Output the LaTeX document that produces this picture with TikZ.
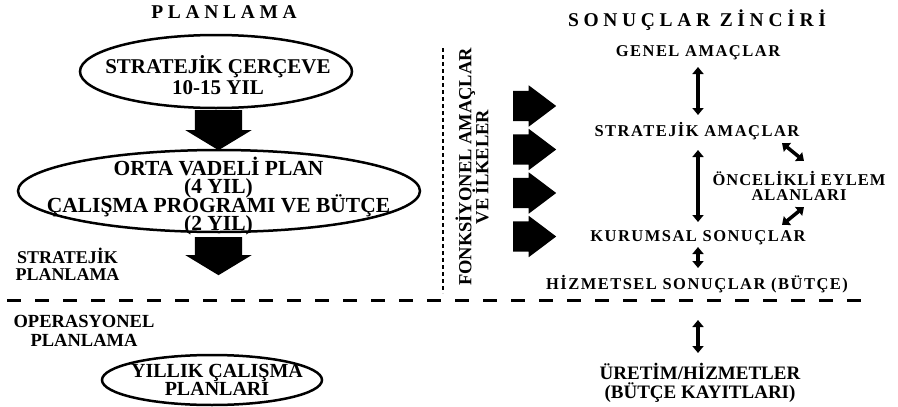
\documentclass[tikz,border=0pt]{standalone}
\usepackage{fontspec}
\setmainfont{Liberation Serif}
\usetikzlibrary{shapes.geometric,shapes.arrows,arrows.meta}
\begin{document}
\lineskiplimit=-100pt
\begin{tikzpicture}[x=1pt,y=-1pt,
  ell/.style={draw, ellipse, line width=2.5pt, inner sep=0pt},
  etext/.style={font=\bfseries\fontsize{21}{21.7}\selectfont, align=center, inner sep=0pt},
  side/.style={font=\bfseries\fontsize{18}{17}\selectfont, align=center, inner sep=0pt},
  title/.style={font=\bfseries\fontsize{19.5}{20}\selectfont\addfontfeatures{LetterSpace=24}, inner sep=0pt, anchor=base},
  chain/.style={font=\bfseries\fontsize{16.5}{15}\selectfont\addfontfeatures{LetterSpace=9}, inner sep=0pt, align=center},
  dbl/.style={{Triangle[width=11pt,length=7pt]}-{Triangle[width=11pt,length=7pt]}, line width=3.5pt},
  blockdown/.style={single arrow, fill=black, draw=none, rotate=-90, inner xsep=0pt, inner ysep=23.5pt,
    single arrow head extend=9.5pt, single arrow tip angle=117.6, minimum height=40pt, anchor=tail},
  blockright/.style={single arrow, fill=black, draw=none, inner xsep=0pt, inner ysep=15pt,
    single arrow head extend=5.5pt, single arrow tip angle=74, minimum height=43pt, anchor=tail}
]
\useasboundingbox (0,0) rectangle (898,407);

% left column
\node[title] (tplan) at (224,18) {PLANLAMA};
\node[ell, minimum width=272pt, minimum height=73pt] (e1) at (216,71.5) {};
\node[etext] (t1) at (218,75) {STRATEJİK ÇERÇEVE\\10-15 YIL};
\node[blockdown] (d1) at (218.5,110) {};
\node[ell, minimum width=402pt, minimum height=82pt] (e2) at (219,191) {};
\node[etext, font=\bfseries\fontsize{21.5}{18.3}\selectfont] (t2) at (218.5,196) {ORTA VADELİ PLAN\\(4 YIL)\\ÇALIŞMA PROGRAMI VE BÜTÇE\\(2 YIL)};
\node[blockdown, minimum height=38pt] (d2) at (218.5,237) {};
\node[side] (sp) at (67.5,264) {STRATEJİK\\PLANLAMA};
\node[side, font=\bfseries\fontsize{18.5}{19}\selectfont] (op) at (84,330.5) {OPERASYONEL\\PLANLAMA};
\node[ell, minimum width=220pt, minimum height=50pt] (e3) at (212,380) {};
\node[etext, font=\bfseries\fontsize{20}{18}\selectfont] (t3) at (217,380) {YILLIK ÇALIŞMA\\PLANLARI};

% separators
\coordinate (h1) at (7,300);
\coordinate (h2) at (873,300);
\draw[line width=3pt, dash pattern=on 14pt off 14pt] (h1) -- (h2);
\coordinate (v1) at (443,48);
\coordinate (v2) at (443,293);
\draw[line width=2pt, dash pattern=on 4pt off 3pt] (v1) -- (v2);

% rotated text and block arrows
\node[side, font=\bfseries\fontsize{18.5}{17}\selectfont, rotate=90] (fonk) at (472,167) {FONKSİYONEL AMAÇLAR\\VE İLKELER};
\node[blockright] (r1) at (513,106) {};
\node[blockright] (r2) at (513,149.5) {};
\node[blockright] (r3) at (513,193) {};
\node[blockright] (r4) at (513,236.5) {};

% results chain
\node[title] (tson) at (697,26) {SONUÇLAR ZİNCİRİ};
\node[chain, anchor=base] (genel) at (698,56) {GENEL AMAÇLAR};
\node[chain, anchor=base] (strat) at (697,136) {STRATEJİK AMAÇLAR};
\node[chain, font=\bfseries\fontsize{16.5}{15}\selectfont\addfontfeatures{LetterSpace=6}] (oncel) at (799,186) {ÖNCELİKLİ EYLEM\\ALANLARI};
\node[chain, anchor=base] (kurum) at (698,241) {KURUMSAL SONUÇLAR};
\node[chain, anchor=base] (hizm) at (697,289) {HİZMETSEL SONUÇLAR (BÜTÇE)};
\node[etext, font=\bfseries\fontsize{19}{19}\selectfont] (uret) at (700,383) {ÜRETİM/HİZMETLER\\(BÜTÇE KAYITLARI)};

\coordinate (a1) at (698,67);  \coordinate (b1) at (698,115);
\coordinate (a2) at (698,150); \coordinate (b2) at (698,222);
\coordinate (a3) at (698,247); \coordinate (b3) at (698,268);
\coordinate (a4) at (698,320); \coordinate (b4) at (698,353);
\coordinate (a5) at (782,143); \coordinate (b5) at (804,161);
\coordinate (a6) at (804,207); \coordinate (b6) at (782,225);
\draw[dbl] (a1) -- (b1);
\draw[dbl] (a2) -- (b2);
\draw[dbl] (a3) -- (b3);
\draw[dbl] (a4) -- (b4);
\draw[dbl] (a5) -- (b5);
\draw[dbl] (a6) -- (b6);
\end{tikzpicture}
\end{document}
